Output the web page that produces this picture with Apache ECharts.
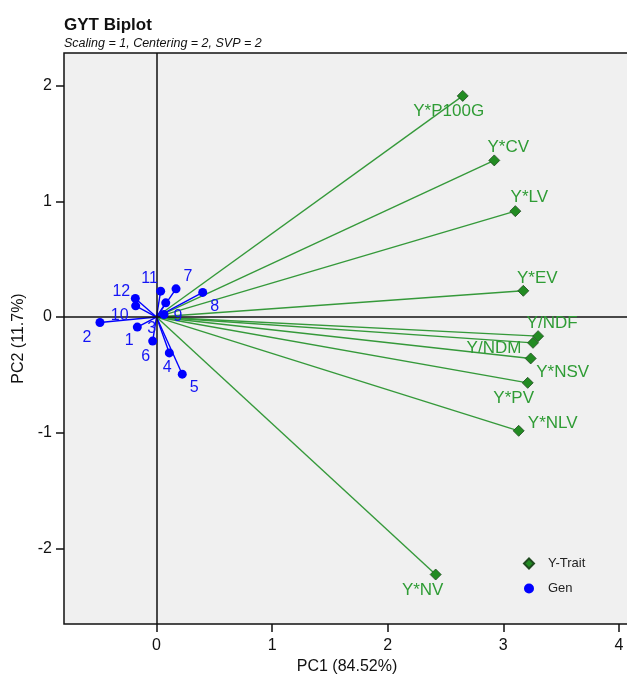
<!DOCTYPE html>
<html>
<head>
<meta charset="utf-8">
<script src="https://cdn.jsdelivr.net/npm/echarts@6/dist/echarts.min.js"></script>
<style>html,body{margin:0;padding:0;background:#fff;}#c{width:627px;height:675px;}</style>
</head>
<body>
<div id="c"></div>
<script>
// ---- data ----
const traitNames = ['Y*P100G','Y*CV','Y*LV','Y*EV','Y/NDF','Y/NDM','Y*NSV','Y*PV','Y*NLV','Y*NV'];
const traitPC1 = [2.649, 2.922, 3.104, 3.173, 3.301, 3.257, 3.237, 3.211, 3.133, 2.415];
const traitPC2 = [1.913, 1.355, 0.916, 0.227, -0.165, -0.223, -0.358, -0.569, -0.984, -2.227];

const genNames = ['1','2','3','4','5','6','7','8','9','10','11','12'];
const genPC1 = [-0.166, -0.489, 0.080, 0.111, 0.223, -0.033, 0.169, 0.400, 0.065, -0.180, 0.036, -0.183];
const genPC2 = [-0.087, -0.047, 0.123, -0.310, -0.494, -0.208, 0.244, 0.213, 0.022, 0.097, 0.224, 0.161];

const xTicks = [0, 1, 2, 3, 4];
const yTicks = [-2, -1, 0, 1, 2];

// ---- label offsets (style only) ----
const traitLabelOffset = [[-14,15],[14,-13],[14,-14],[14,-12],[14,-13],[-39,5],[32,14],[-14,15],[34,-8],[-13,16]];
const genLabelOffset = [[-8,13],[-13,15],[-14,26],[-2,15],[12,13],[-7,15],[12,-12],[12,14],[14,2],[-16,10],[-11,-13],[-14,-7]];

const GREEN_LINE = '#35993a';
const GREEN_TEXT = '#2f9c35';
const BLUE = '#0000ff';
const BLUE_TEXT = '#1414f5';
const FONT = 'Liberation Sans, Arial, sans-serif';

const series = [];
// trait vectors
traitNames.forEach((n, i) => {
  series.push({
    type: 'line', silent: true, symbol: 'none', z: 2,
    lineStyle: { color: GREEN_LINE, width: 1.4 },
    data: [[0, 0], [traitPC1[i], traitPC2[i]]]
  });
});
// genotype vectors
genNames.forEach((n, i) => {
  series.push({
    type: 'line', silent: true, symbol: 'none', z: 3,
    lineStyle: { color: BLUE, width: 1.4 },
    data: [[0, 0], [genPC1[i], genPC2[i]]]
  });
});
// zero lines
series.push({
  type: 'line', data: [], silent: true, z: 1,
  markLine: {
    silent: true, symbol: 'none', label: { show: false },
    lineStyle: { color: '#111', width: 1.5, type: 'solid' },
    data: [{ xAxis: 0 }, { yAxis: 0 }]
  }
});
series.push({
  name: 'Y-Trait', type: 'scatter', symbol: 'diamond', symbolSize: 11, z: 5,
  itemStyle: { color: '#228B22', borderColor: '#1f4a1f', borderWidth: 0.8, opacity: 1 },
  label: { show: true, position: 'inside', color: GREEN_TEXT, fontSize: 17, fontFamily: FONT,
           textBorderWidth: 0, opacity: 1, formatter: p => p.name },
  data: traitNames.map((n, i) => ({ name: n, value: [traitPC1[i], traitPC2[i]],
          label: { offset: traitLabelOffset[i] } }))
});
series.push({
  name: 'Gen', type: 'scatter', symbol: 'circle', symbolSize: 9, z: 6,
  itemStyle: { color: BLUE, opacity: 1 },
  label: { show: true, position: 'inside', color: BLUE_TEXT, fontSize: 16, fontFamily: FONT,
           textBorderWidth: 0, opacity: 1, formatter: p => p.name },
  data: genNames.map((n, i) => ({ name: n, value: [genPC1[i], genPC2[i]],
          label: { offset: genLabelOffset[i] } }))
});

const chart = echarts.init(document.getElementById('c'), null, { renderer: 'canvas' });
chart.setOption({
  animation: false,
  backgroundColor: '#ffffff',
  title: {
    text: 'GYT Biplot',
    subtext: 'Scaling = 1, Centering = 2, SVP = 2',
    left: 59, top: 12, itemGap: 3,
    textStyle: { fontFamily: FONT, fontSize: 17, fontWeight: 'bold', color: '#111' },
    subtextStyle: { fontFamily: FONT, fontSize: 12.5, fontStyle: 'italic', color: '#111' }
  },
  legend: {
    orient: 'vertical', left: 518, top: 552, itemGap: 12,
    itemWidth: 10, itemHeight: 10,
    data: [{ name: 'Y-Trait', icon: 'diamond' }, { name: 'Gen', icon: 'circle' }],
    textStyle: { fontFamily: FONT, fontSize: 13, color: '#222', padding: [0, 0, 0, 9] }
  },
  grid: {
    left: 64, top: 53, width: 566, height: 571,
    outerBoundsMode: 'none', containLabel: false,
    show: true, backgroundColor: '#f0f0f0', borderColor: '#111', borderWidth: 1.5
  },
  xAxis: {
    type: 'value', min: -0.8, max: 4.096,
    name: 'PC1 (84.52%)', nameLocation: 'middle', nameGap: 35,
    nameTextStyle: { fontFamily: FONT, fontSize: 16, color: '#111' },
    axisLine: { show: false, onZero: false },
    axisTick: { show: true, length: 8, customValues: xTicks, lineStyle: { color: '#111', width: 1.5 } },
    axisLabel: { customValues: xTicks, margin: 14, fontFamily: FONT, fontSize: 16, color: '#111' },
    splitLine: { show: false }
  },
  yAxis: {
    type: 'value', min: -2.655, max: 2.284,
    name: 'PC2 (11.7%)', nameLocation: 'middle', nameGap: 35,
    nameTextStyle: { fontFamily: FONT, fontSize: 16, color: '#111' },
    axisLine: { show: false, onZero: false },
    axisTick: { show: true, length: 8, customValues: yTicks, lineStyle: { color: '#111', width: 1.5 } },
    axisLabel: { customValues: yTicks, margin: 12, fontFamily: FONT, fontSize: 16, color: '#111' },
    splitLine: { show: false }
  },
  series: series
});
</script>
</body>
</html>
